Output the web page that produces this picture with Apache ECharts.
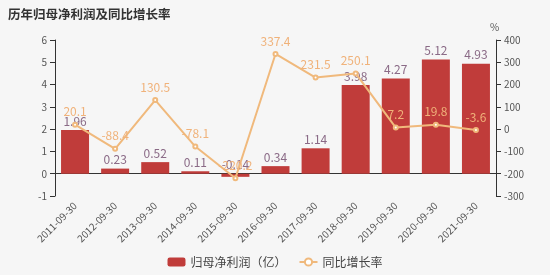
<!DOCTYPE html>
<html><head><meta charset="utf-8">
<script src="https://cdn.jsdelivr.net/npm/echarts@6/dist/echarts.min.js"></script>
<style>html,body{margin:0;padding:0;background:#f6f6f6}#c{width:550px;height:275px}</style>
</head><body><div id="c"></div>
<script>
const categories = ['2011-09-30','2012-09-30','2013-09-30','2014-09-30','2015-09-30','2016-09-30','2017-09-30','2018-09-30','2019-09-30','2020-09-30','2021-09-30'];
const profit = [1.96, 0.23, 0.52, 0.11, -0.14, 0.34, 1.14, 3.98, 4.27, 5.12, 4.93];
const growth = [20.1, -88.4, 130.5, -78.1, -220.2, 337.4, 231.5, 250.1, 7.2, 19.8, -3.6];
const leftTicks = {min: -1, max: 6, interval: 1};
const rightTicks = {min: -300, max: 400, interval: 100};

const chart = echarts.init(document.getElementById('c'));
const font = '"Noto Sans CJK SC", sans-serif';
chart.setOption({
  backgroundColor: '#f6f6f6',
  textStyle: {fontFamily: font},
  title: {text: '历年归母净利润及同比增长率', left: 3, top: 3,
    textStyle: {fontSize: 12.5, fontWeight: 'bold', color: '#333', fontFamily: font}},
  legend: {bottom: 2, left: 'center', itemWidth: 18, itemHeight: 9, itemGap: 12,
    textStyle: {fontSize: 12, color: '#444', fontFamily: font},
    data: [{name: '归母净利润（亿）', icon: 'roundRect'}, {name: '同比增长率'}]},
  grid: {left: 55, right: 54, top: 40, bottom: 79},
  xAxis: {type: 'category', data: categories,
    axisLine: {onZero: true, lineStyle: {color: '#333'}},
    axisTick: {lineStyle: {color: '#333'}},
    axisLabel: {rotate: 45, fontSize: 10, color: '#555', interval: 0, margin: 8}},
  yAxis: [
    {type: 'value', min: leftTicks.min, max: leftTicks.max, interval: leftTicks.interval,
     splitLine: {show: false}, axisLine: {show: true, lineStyle: {color: '#333'}},
     axisTick: {show: true}, axisLabel: {fontSize: 10, color: '#555'}},
    {type: 'value', name: '%', nameGap: 8, nameTextStyle: {color: '#555', fontSize: 10, align: 'left', padding: [0,0,0,-6]},
     min: rightTicks.min, max: rightTicks.max, interval: rightTicks.interval,
     splitLine: {show: false}, axisLine: {show: true, lineStyle: {color: '#333'}},
     axisTick: {show: true}, axisLabel: {fontSize: 10, color: '#555'}}
  ],
  series: [
    {name: '归母净利润（亿）', type: 'bar', data: profit, barWidth: 28,
     itemStyle: {color: '#c03c3a'},
     label: {show: true, position: 'top', fontSize: 12, color: '#8a6a86', distance: 3}},
    {name: '同比增长率', type: 'line', yAxisIndex: 1, data: growth,
     symbol: 'emptyCircle', symbolSize: 4, showAllSymbol: true,
     lineStyle: {color: '#f0b97c', width: 2},
     itemStyle: {color: '#f0b97c'},
     label: {show: true, position: 'top', fontSize: 12, color: '#f0b27a', distance: 4}}
  ]
});
</script></body></html>
